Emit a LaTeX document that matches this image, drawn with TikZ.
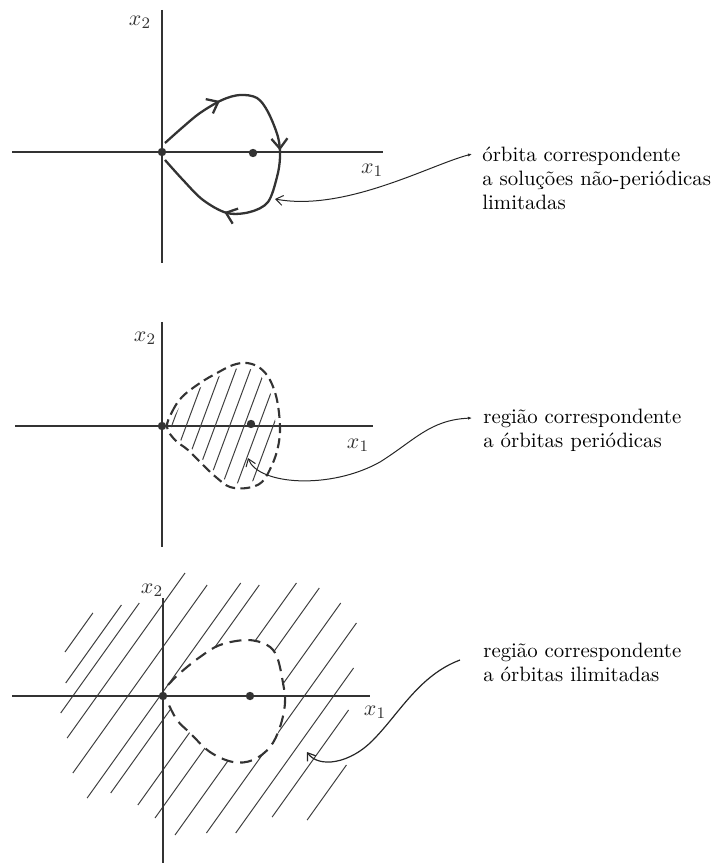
\documentclass[tikz,border=0pt]{standalone}
\usetikzlibrary{arrows.meta,decorations.markings}
\begin{document}
\begin{tikzpicture}[x=0.5pt,y=-0.5pt,
  axis/.style={line width=0.65pt, draw=black!80},
  dot/.style={circle, fill=black!80, inner sep=0pt, minimum size=4.2pt},
  orbit/.style={line width=1.15pt, draw=black!80},
  dashmid/.style={line width=1.05pt, draw=black!80, dash pattern=on 5pt off 2.6pt},
  dashbot/.style={line width=1.05pt, draw=black!80, dash pattern=on 6pt off 3.5pt},
  hatchline/.style={line width=0.5pt, draw=black!75},
  conn/.style={line width=0.5pt, draw=black!85},
  lab/.style={align=left, inner sep=0pt, anchor=north west, font=\fontsize{10.4}{11.8}\selectfont},
  axlab/.style={inner sep=0pt, font=\fontsize{11}{12}\selectfont, text=black!80},
  orbarb/.tip={Straight Barb[length=5pt,width=8pt]},
  endbarb/.tip={Straight Barb[length=3.5pt,width=5pt]},
  smalltip/.tip={Latex[length=2pt,width=1.6pt]}]
\useasboundingbox (0,0) rectangle (715,865);

% ---------- top diagram ----------
\draw[axis] (12,152) -- (383,152);
\draw[axis] (162,10) -- (162,263);
\node[axlab] (x2a) at (140,22) {$x_2$};
\node[axlab] (x1a) at (372,170) {$x_1$};
\draw[orbit, postaction={decorate}, decoration={markings,
    mark=at position 0.2 with {\arrow{orbarb}},
    mark=at position 0.48 with {\arrow{orbarb}},
    mark=at position 0.77 with {\arrow{orbarb}}}]
  plot[smooth, tension=0.55] coordinates {(165,143) (183,127) (200,113) (222,100) (240,95) (257,98) (268,112) (278,137) (280,157) (277,177) (268,202) (250,212) (227,213) (203,200) (183,180) (165,160)};
\node[dot] (o1) at (162,152) {};
\node[dot] (p1) at (253,153) {};
\node[lab] (lab1) at (482,147) {órbita correspondente\\a soluções não-periódicas\\limitadas};
\coordinate (c1a) at (472,154);
\coordinate (c1b) at (275,199);
\draw[conn, {endbarb}-{smalltip}] (c1b) .. controls (345,212) and (430,165) .. (c1a);

% ---------- middle diagram ----------
\draw[axis] (15,426) -- (373,426);
\draw[axis] (162,322) -- (162,547);
\node[axlab] (x2b) at (145,338) {$x_2$};
\node[axlab] (x1b) at (358,445) {$x_1$};
\begin{scope}
  \clip[scale around={0.92:(224,425)}] plot[smooth cycle, tension=0.6] coordinates {(167,427) (172,412) (182,397) (200,383) (217,373) (233,365) (247,363) (260,368) (270,380) (277,400) (280,427) (278,447) (272,465) (262,482) (247,488) (230,487) (217,478) (203,465) (188,450) (175,440)};
  \foreach \xo in {172,186.5,201,215.5,230,244.5,259,273.5}
    \draw[hatchline] ({\xo-35.2},520) -- ({\xo+31.5},340);
\end{scope}
\draw[dashmid] plot[smooth cycle, tension=0.6] coordinates {(167,427) (172,412) (182,397) (200,383) (217,373) (233,365) (247,363) (260,368) (270,380) (277,400) (280,427) (278,447) (272,465) (262,482) (247,488) (230,487) (217,478) (203,465) (188,450) (175,440)};
\node[dot] (o2) at (162,426) {};
\node[dot] (p2) at (251,424) {};
\node[lab] (lab2) at (483,409) {região correspondente\\a órbitas periódicas};
\coordinate (c2a) at (472,418);
\coordinate (c2b) at (248,458);
\coordinate (c2m) at (380,462);
\draw[conn, {endbarb}-{smalltip}] (c2b) .. controls (258,485) and (330,490) .. (c2m) .. controls (415,440) and (430,420) .. (c2a);

% ---------- bottom diagram ----------
\begin{scope}
  \clip (0,0) -- (0,865) -- (715,865) -- (715,0) -- cycle
    plot[smooth cycle, tension=0.6] coordinates {(168,685) (180,673) (200,657) (220,645) (247,640) (267,645) (277,657) (283,683) (285,703) (280,727) (270,747) (253,760) (233,762) (210,752) (190,733) (177,720) (168,703)};
  \foreach \c/\ya/\yb in {743/652/613, 775/683/605, 798/713/603, 832/738/573, 875/773/585, 920/798/583, 948/793/585, 998/805/583, 1035/818/588, 1080/835/603, 1122/833/623, 1163/833/668, 1198/817/710, 1250/820/765}
    \draw[hatchline] ({(\c-\ya)/1.4},\ya) -- ({(\c-\yb)/1.4},\yb);
\end{scope}
\draw[axis] (12,696) -- (370,696);
\draw[axis] (163,583) -- (163,863);
\node[axlab, fill=white, inner sep=1pt] (x2c) at (152,590) {$x_2$};
\node[axlab, fill=white, inner sep=1pt] (x1c) at (375,712) {$x_1$};
\draw[dashbot] plot[smooth, tension=0.6] coordinates {(168,685) (180,673) (200,657) (220,645) (247,640) (267,645) (277,657) (283,683) (285,703) (280,727) (270,747) (253,760) (233,762) (210,752) (190,733) (177,720) (168,703)};
\node[dot] (o3) at (163,696) {};
\node[dot] (p3) at (250,696) {};
\node[lab] (lab3) at (483,643) {região correspondente\\a órbitas ilimitadas};
\coordinate (c3a) at (460,660);
\coordinate (c3b) at (307,752);
\coordinate (c3m) at (375,738);
\draw[conn, line width=0.6pt, {endbarb}-] (c3b) .. controls (318,768) and (350,765) .. (c3m) .. controls (400,712) and (420,675) .. (c3a);
\end{tikzpicture}
\end{document}
